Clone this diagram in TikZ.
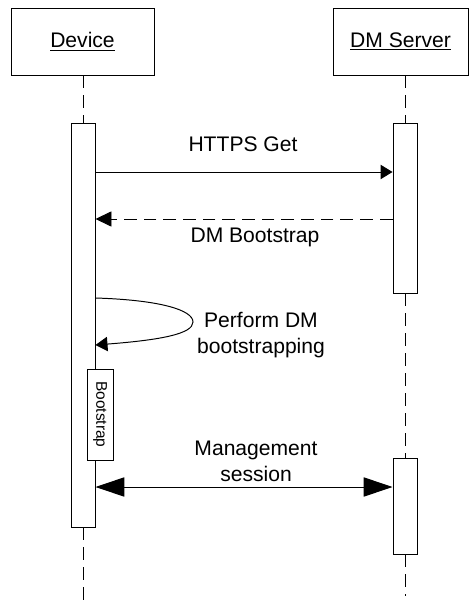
\documentclass[tikz,border=0pt]{standalone}
\usepackage{fontspec}
\setmainfont{Liberation Sans}
\usetikzlibrary{arrows.meta}

\begin{document}
\begin{tikzpicture}[line width = 0.7pt,
                      actor/.style = {rectangle, draw, fill = white, minimum height = 1.675cm, font = \fontsize{15}{18}\selectfont},
                      actbar/.style = {rectangle, draw, fill = white, minimum width = 0.6cm, inner sep = 0pt},
                      lifeline/.style = {dash pattern = on 9.2pt off 5pt},
                      msg/.style = {-{Triangle[length = 0.3cm, width = 0.36cm]}},
                      reply/.style = {dash pattern = on 9pt off 5pt, -{Triangle[length = 0.4cm, width = 0.38cm]}},
                      both/.style = {{Triangle[length = 0.72cm, width = 0.48cm]}-{Triangle[length = 0.72cm, width = 0.48cm]}},
                      txt/.style = {align = center, font = \fontsize{15}{18.5}\selectfont}]
    \useasboundingbox (0, 0) rectangle (11.725, -15.05);
    \node [actor, minimum width = 3.575cm] (dev) at (2.0625, -1.0375){\underline{Device}};
    \node [actor, minimum width = 3.375cm] (srv) at (10.0125, -1.0375){\underline{DM Server}};
    \node [actbar, minimum height = 10.1cm] (devbar) at (2.075, -8.125){};
    \node [actbar, minimum height = 4.25cm] (srvbar1) at (10.125, -5.2){};
    \node [actbar, minimum height = 2.4cm] (srvbar2) at (10.125, -12.65){};
    \node [rectangle, draw, fill = white, minimum width = 0.65cm, minimum height = 2.275cm, inner sep = 0pt] (boot) at (2.5, -10.3625){};
    \node [rotate = -90, font = \fontsize{11}{13}\selectfont] at (boot.center){Bootstrap};
    \coordinate (devend) at (2.075, -15.05);
    \coordinate (srvend) at (10.125, -14.9);
    \draw [lifeline] (dev.south -| devbar) -- (devbar.north);
    \draw [lifeline] (devbar.south) -- (devend);
    \draw [lifeline] (srv.south -| srvbar1) -- (srvbar1.north);
    \draw [lifeline] (srvbar1.south) -- (srvbar2.north);
    \draw [lifeline] (srvbar2.south) -- (srvend);
    \draw [msg] (devbar.east |- 0, -4.3) -- (srvbar1.west |- 0, -4.3);
    \node [txt] at (6.075, -3.6){HTTPS Get};
    \draw [reply] (srvbar1.west |- 0, -5.475) -- (devbar.east |- 0, -5.475);
    \node [txt] at (6.375, -5.925){DM Bootstrap};
    \draw [-{Triangle[length = 0.3cm, width = 0.36cm]}] (devbar.east |- 0, -7.45)
        .. controls (4.0, -7.5) and (4.825, -7.75) .. (4.825, -8.05)
        .. controls (4.825, -8.35) and (4.0, -8.5) .. (devbar.east |- 0, -8.625);
    \node [txt] at (6.525, -8.375){Perform DM\\bootstrapping};
    \draw [both] (devbar.east |- 0, -12.175) -- (srvbar2.west |- 0, -12.175);
    \node [txt] at (6.4, -11.525){Management\\session};
    \end{tikzpicture}
\end{document}
